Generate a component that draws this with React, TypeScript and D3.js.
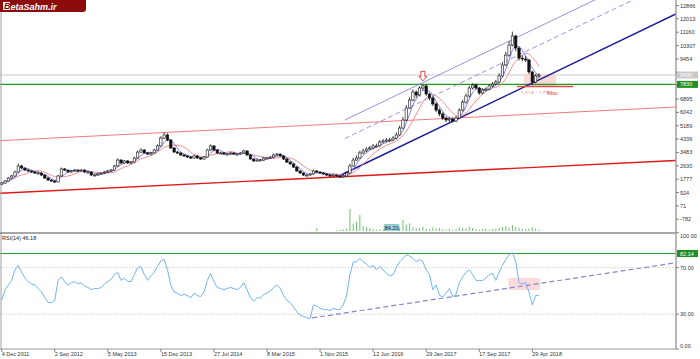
import React from 'react';
import * as d3 from 'd3';

const W = 700;
const H = 359;

const closes = [1530,1660,1850,1980,2235,2620,2490,2360,2300,2235,
2170,2170,2040,1850,1720,1660,1600,1980,2430,2360,
2235,2300,2360,2300,2360,2235,2235,2040,2040,2110,
2170,2235,2300,2360,2620,3000,2810,2940,2810,2870,
3130,3510,3640,3450,3380,3450,3640,3900,4400,4600,
4280,3770,3510,3450,3320,3260,3190,3130,3260,3130,
3065,3190,3640,3900,3640,3450,3450,3380,3380,3450,
3380,3380,3450,3580,3320,3065,2940,3000,3000,3130,
3130,3190,3320,3380,3260,3065,2870,2750,2550,2300,
2170,2040,2040,2110,2300,2235,2170,2110,2040,1980,
2040,1980,1915,1980,2170,2620,3000,3130,3450,3580,
3700,3770,3900,3900,4150,4215,4280,4280,4400,4600,
5045,5555,6320,6830,7340,7150,7600,7730,7215,6960,
6580,6190,5940,5680,5555,5620,5490,5680,6190,6700,
7090,7600,7790,7600,7280,7470,7530,7730,7850,7980,
8370,9070,9700,10340,10920,10150,9510,9450,9390,8620,
7980,8370,8430];

const highs = [1600,1720,1920,2060,2320,2780,2700,2540,2420,2360,
2290,2260,2230,2090,1900,1780,1720,2050,2520,2490,
2400,2370,2420,2410,2430,2400,2310,2270,2110,2170,
2230,2300,2360,2430,2700,3100,3060,3010,3000,2940,
3200,3600,3750,3700,3510,3520,3720,4000,4520,4760,
4700,4330,3830,3580,3500,3390,3320,3250,3330,3310,
3190,3260,3720,4000,3950,3690,3530,3510,3450,3520,
3500,3450,3520,3660,3620,3370,3120,3070,3070,3200,
3200,3260,3400,3460,3430,3310,3110,2920,2800,2600,
2350,2220,2110,2180,2380,2360,2290,2230,2160,2090,
2110,2090,2030,2060,2260,2760,3150,3300,3600,3720,
3820,3900,4020,4050,4280,4350,4400,4420,4530,4780,
5200,5750,6500,7000,7500,7450,7720,7830,7800,7300,
7050,6680,6300,6050,5780,5750,5720,5800,6300,6850,
7250,7750,7900,7880,7680,7580,7640,7850,7980,8120,
8550,9250,9900,10600,11200,11000,10250,9700,9650,9450,
8700,8500,8550];

const lows = [1400,1480,1620,1800,1930,2200,2420,2300,2240,2170,
2110,2090,1980,1790,1660,1600,1530,1570,1950,2300,
2180,2190,2250,2240,2260,2180,2160,1990,1980,1990,
2060,2120,2180,2250,2320,2580,2750,2760,2750,2750,
2830,3080,3460,3390,3320,3320,3400,3600,3860,4330,
4200,3700,3450,3380,3260,3190,3120,3060,3080,3070,
3000,3020,3150,3590,3580,3390,3380,3320,3310,3330,
3320,3310,3330,3400,3260,3000,2880,2890,2930,2950,
3060,3080,3140,3270,3200,3000,2810,2690,2490,2240,
2110,1980,1970,1990,2070,2180,2110,2050,1980,1920,
1930,1920,1860,1880,1950,2130,2580,2950,3080,3380,
3500,3620,3700,3800,3850,4080,4120,4150,4200,4320,
4550,4980,5500,6250,6750,6980,7050,7450,7100,6800,
6450,6050,5800,5550,5420,5430,5400,5420,5600,6100,
6600,7000,7500,7500,7150,7200,7380,7450,7650,7780,
7900,8300,9000,9600,10250,9950,9350,9300,9250,8500,
7800,7900,8250];

const firstOpen = 1450;

const volumes = [2,2,3,2,2,3,2,2,2,2,
2,2,2,2,2,2,2,3,3,2,
2,2,2,2,2,2,2,2,2,2,
2,2,2,2,3,3,2,2,2,2,
3,3,3,2,2,2,3,3,4,4,
3,3,2,2,2,2,2,2,2,2,
2,2,3,3,2,2,2,2,2,2,
2,2,2,2,2,2,2,2,2,2,
2,2,2,2,2,2,2,3,3,3,
3,3,3,3,4,17,4,3,3,4,
5,8,10,12,15,100,37,44,74,26,
22,18,14,10,12,10,15,12,28,20,
18,52,33,38,20,15,18,22,15,12,
20,15,18,12,10,14,10,12,20,18,
15,22,18,12,10,12,14,10,12,15,
18,22,25,20,30,22,18,14,12,16,
20,15,10];

const rsiValues = [42,51,55,59,68,72,66,61,58,56,
55,52,49,44,40,40,42,59,62,58,
55,57,58,56,57,54,53,51,52,52,
53,56,58,60,64,66,59,61,58,58,
64,70,71,64,59,63,66,71,76,77,
68,55,49,48,46,47,46,44,48,46,
45,49,59,65,58,53,52,51,52,53,
52,51,53,57,51,44,41,44,44,47,
48,50,53,55,52,46,42,40,36,32,
29,28,27,26,38,37,35,34,34,33,
35,34,34,38,46,64,75,75,78,75,
73,70,72,68,71,68,65,63,64,70,
75,78,81,80,78,75,77,75,68,64,
51,55,46,45,48,52,45,47,57,62,
66,68,64,59,59,59,61,64,65,59,
66,72,77,81,83,75,57,56,57,49,
38,46,46.18];

const dateLabels = ['4 Dec 2011','2 Sep 2012','5 May 2013','15 Dec 2013','27 Jul 2014','8 Mar 2015','1 Nov 2015','12 Jun 2016','29 Jan 2017','17 Sep 2017','29 Apr 2018'];
const dateLabelIdx = [0,16,32,48,64,80,96,112,128,144,160];

const priceTicks = [-782,71,924,1777,2630,3483,4336,5189,6042,6895,7748,8601,9454,10307,11160,12013,12866];
const rsiTicks = [0,30,70,100];

const levelPrice = 7830;
const rsiLevel = 82.14;
const volumeLabel = '84.20';
const fiboNumbers = '۱.۶۱۸ - ۱.۲۷';
const fiboWord = 'fibo';

// trend lines in data space: [barIndex, value]
const redLow = [[-0.5, 875],[203.3, 2969]];
const redHigh = [[-0.5, 4234],[203.3, 6386]];
const blueTrend = [[101.7, 1980],[203.3, 12324]];
const channelSolid = [[103.5, 5556],[203.3, 15709]];
const channelDash = [[103.5, 4374],[203.3, 14540]];
const rsiTrend = [[93.6, 26.7],[203.3, 74.2]];
const fiboLine = [[155.4, 7695],[172.3, 7695]];
const fiboBox = [[157.5, 7727],[167.2, 8493]];
const rsiBox = [[152.8, 50.8],[162.4, 61.1]];
const arrowAt = [127, 7830];

export default function App() {
  const x = d3.scaleLinear().domain([0, 16]).range([1.7, 54.76]);
  const yP = d3.scaleLinear().domain([-1532, 13218]).range([231, 0]);
  const yR = d3.scaleLinear().domain([0, 100]).range([349, 232.75]);
  const yV = d3.scaleLinear().domain([0, 100]).range([232, 209]);

  const sma = (n: number) => closes.map((_, i) => d3.mean(closes.slice(Math.max(0, i - n + 1), i + 1)) as number);
  const maFast = sma(4);
  const maSlow = sma(8);
  const line = d3.line<number>().x((_, i) => x(i)).y(d => yP(d)).curve(d3.curveMonotoneX);
  const rsiLine = d3.line<number>().x((_, i) => x(i)).y(d => yR(d));

  const seg = (pts: number[][], ys: d3.ScaleLinear<number, number>) => ({ x1: x(pts[0][0]), y1: ys(pts[0][1]), x2: x(pts[1][0]), y2: ys(pts[1][1]) });
  const font = 'Liberation Sans, Arial, sans-serif';
  const last = closes[closes.length - 1];
  const ax = 676;

  const aX = x(arrowAt[0]);
  const aY = yP(arrowAt[1]);
  const boxYs = [yP(last), yP(levelPrice)];
  const visibleTicks = priceTicks.filter(t => boxYs.every(b => Math.abs(yP(t) - b) > 6));

  return (
    <svg width={W} height={H} style={{ position: 'absolute', left: 0, top: 0, background: '#fff' }} fontFamily={font}>
      <defs>
        <clipPath id="pc"><rect x={0} y={0} width={ax} height={231} /></clipPath>
        <clipPath id="rc"><rect x={0} y={234} width={ax} height={115} /></clipPath>
      </defs>
      <rect width={W} height={H} fill="#fff" />

      {/* price panel */}
      <g clipPath="url(#pc)">
        <line {...seg(redHigh, yP)} stroke="#f07a7a" strokeWidth={1} />
        <line {...seg(redLow, yP)} stroke="#e01818" strokeWidth={1.4} />
        <line x1={0} x2={ax} y1={yP(last)} y2={yP(last)} stroke="#c8c8c8" strokeWidth={1} />
        <rect x={x(fiboBox[0][0])} y={yP(fiboBox[1][1])} width={x(fiboBox[1][0]) - x(fiboBox[0][0])} height={yP(fiboBox[0][1]) - yP(fiboBox[1][1])} fill="#f9d4d4" opacity={0.85} />
        <line x1={0} x2={ax} y1={yP(levelPrice)} y2={yP(levelPrice)} stroke="#1f9a1f" strokeWidth={1.3} />
        <line {...seg(channelSolid, yP)} stroke="#7a78d8" strokeWidth={0.8} />
        <line {...seg(channelDash, yP)} stroke="#7a78d8" strokeWidth={0.8} strokeDasharray="5,3" />
        <line {...seg(blueTrend, yP)} stroke="#1c1c9c" strokeWidth={1.5} />
        <line {...seg(fiboLine, yP)} stroke="#e84848" strokeWidth={1.4} />
        {volumes.map((v, i) => (
          <line key={'v' + i} x1={x(i)} x2={x(i)} y1={yV(0)} y2={yV(v)} stroke="#6cc46c" strokeWidth={1} />
        ))}
        <path d={line(maSlow) || ''} fill="none" stroke="#f28b8b" strokeWidth={1} />
        <path d={line(maFast) || ''} fill="none" stroke="#7d7dff" strokeWidth={1} />
        {closes.map((c, i) => {
          const o = i === 0 ? firstOpen : closes[i - 1];
          const bull = c >= o;
          const top = yP(Math.max(o, c));
          const h = Math.max(1, Math.abs(yP(o) - yP(c)));
          return (
            <g key={'c' + i}>
              <line x1={x(i)} x2={x(i)} y1={yP(highs[i])} y2={yP(lows[i])} stroke="#111" strokeWidth={0.8} />
              <rect x={x(i) - 1.2} y={top} width={2.4} height={h} fill={bull ? '#fff' : '#111'} stroke="#111" strokeWidth={0.6} />
            </g>
          );
        })}
        <path d={`M${aX - 2},${aY - 13} h4 v5 h2 l-4,4.5 l-4,-4.5 h2 z`} fill="#fff" stroke="#e03030" strokeWidth={0.9} />
        <text x={x(156.5)} y={yP(fiboLine[0][1]) + 8} fontSize={5} fill="#f07a7a">{fiboNumbers}</text>
        <text x={x(164.6)} y={yP(fiboLine[0][1]) + 8.5} fontSize={6} fill="#d03838">{fiboWord}</text>
        <rect x={x(115.3)} y={yV(17) - 3.5} width={15} height={7} rx={1} fill="#9fd6d6" stroke="#4a9a9a" strokeWidth={0.5} />
        <text x={x(115.3) + 7.5} y={yV(17) + 2} fontSize={5.5} textAnchor="middle" fill="#114">{volumeLabel}</text>
      </g>

      {/* RSI panel */}
      <g clipPath="url(#rc)">
        {[30, 70].map(t => (
          <line key={'rl' + t} x1={0} x2={ax} y1={yR(t)} y2={yR(t)} stroke="#d0d0d0" strokeWidth={1} strokeDasharray="1.5,1.5" />
        ))}
        <line x1={0} x2={ax} y1={yR(rsiLevel)} y2={yR(rsiLevel)} stroke="#2a9a2a" strokeWidth={1.2} />
        <rect x={x(rsiBox[0][0])} y={yR(rsiBox[1][1])} width={x(rsiBox[1][0]) - x(rsiBox[0][0])} height={yR(rsiBox[0][1]) - yR(rsiBox[1][1])} fill="#f9d4d4" opacity={0.85} />
        <line {...seg(rsiTrend, yR)} stroke="#8a86cc" strokeWidth={1.2} strokeDasharray="5,3" />
        <path d={rsiLine(rsiValues) || ''} fill="none" stroke="#72b4f4" strokeWidth={1} />
      </g>
      <text x={2} y={240} fontSize={5.5} fill="#222">RSI(14) 46.18</text>

      {/* frame */}
      <line x1={1} x2={1} y1={0} y2={349} stroke="#a0a0a0" strokeWidth={1} />
      <line x1={0} x2={ax} y1={233} y2={233} stroke="#8a8a8a" strokeWidth={1.6} />
      <line x1={ax} x2={ax} y1={0} y2={349} stroke="#9a9a9a" strokeWidth={1.4} />
      <line x1={0} x2={ax} y1={349} y2={349} stroke="#9a9a9a" strokeWidth={1.2} />

      {/* price axis */}
      {priceTicks.map(t => (
        <line key={'ptl' + t} x1={ax} x2={ax + 3} y1={yP(t)} y2={yP(t)} stroke="#555" strokeWidth={0.7} />
      ))}
      {visibleTicks.map(t => (
        <text key={'pt' + t} x={ax + 4} y={yP(t) + 2} fontSize={5.5} fill="#333">{t}</text>
      ))}
      <rect x={ax + 1} y={yP(last) - 3.5} width={21} height={7} fill="#c9c9c9" />
      <text x={ax + 4} y={yP(last) + 2} fontSize={5.5} fill="#fff">{last}</text>
      <rect x={ax + 1} y={yP(levelPrice) - 3.5} width={21} height={7} fill="#1f8f1f" />
      <text x={ax + 4} y={yP(levelPrice) + 2} fontSize={5.5} fill="#fff">{levelPrice}</text>

      {/* RSI axis */}
      {rsiTicks.map(t => {
        const yy = Math.min(346, Math.max(236, yR(t)));
        return (
          <g key={'rt' + t}>
            <line x1={ax} x2={ax + 3} y1={yR(t)} y2={yR(t)} stroke="#555" strokeWidth={0.7} />
            <text x={ax + 4} y={yy + 2} fontSize={5.5} fill="#333">{t.toFixed(2)}</text>
          </g>
        );
      })}
      <rect x={ax + 1} y={yR(rsiLevel) - 3.5} width={21} height={7} fill="#1f8f1f" />
      <text x={ax + 4} y={yR(rsiLevel) + 2} fontSize={5.5} fill="#fff">{rsiLevel.toFixed(2)}</text>

      {/* date axis */}
      {dateLabelIdx.map((idx, k) => (
        <g key={'d' + idx}>
          <line x1={x(idx)} x2={x(idx)} y1={349} y2={352} stroke="#555" strokeWidth={0.7} />
          <text x={x(idx)} y={356} fontSize={5.5} fill="#333">{dateLabels[k]}</text>
        </g>
      ))}

      {/* watermark */}
      <path d="M0,0 H86 V9 Q86,12 83,12 H0 Z" fill="#8c0c0c" />
      <rect x={3} y={2} width={7} height={8} fill="#fff" />
      <text x={4} y={9.3} fontSize={9} fontWeight="bold" fill="#8c0c0c" fontStyle="italic">B</text>
      <text x={10.5} y={9.5} fontSize={9} fontWeight="bold" fill="#fff" fontStyle="italic">etaSahm.ir</text>
    </svg>
  );
}
